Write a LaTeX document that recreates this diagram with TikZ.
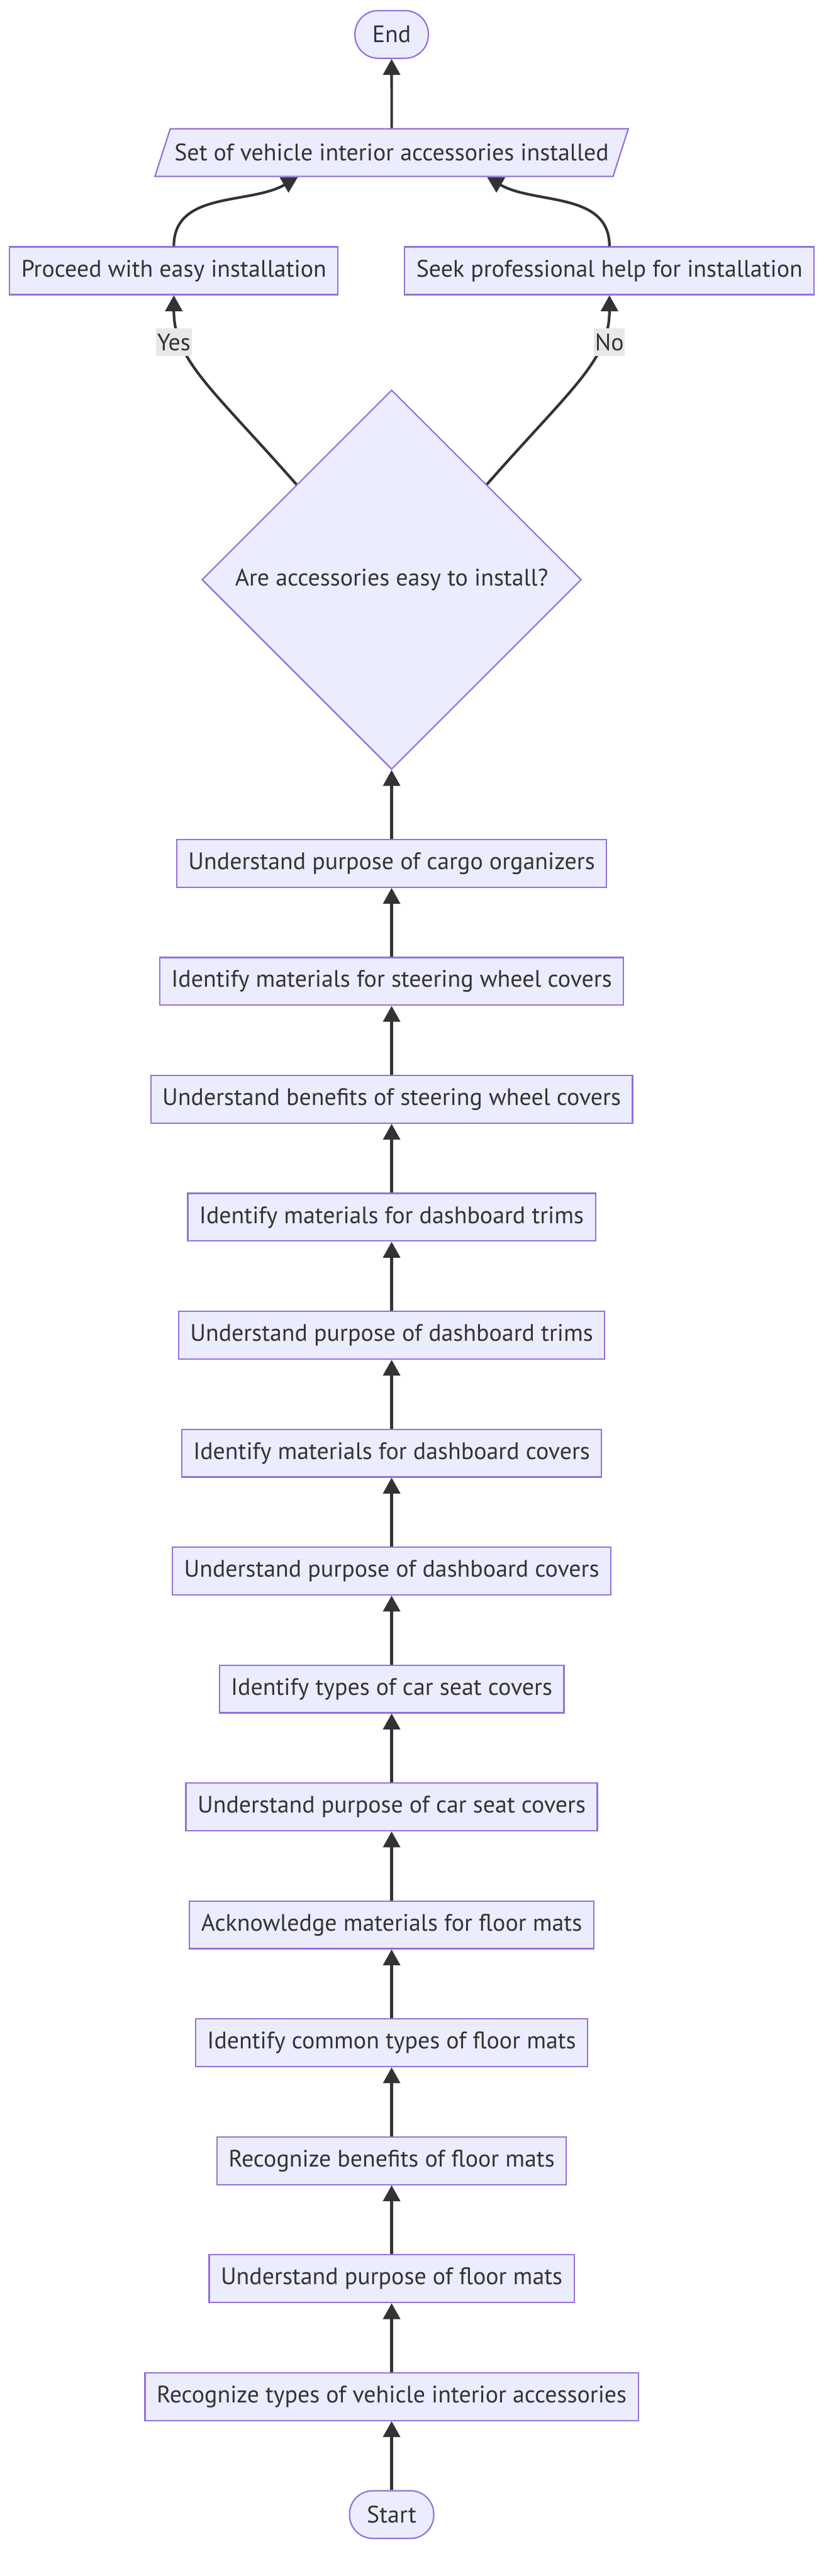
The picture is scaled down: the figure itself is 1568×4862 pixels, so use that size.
\documentclass[tikz,border=0pt]{standalone}
\usepackage{fontspec}
\setmainfont{PT Sans}
\usetikzlibrary{positioning,shapes.geometric,arrows.meta}
\definecolor{boxfill}{HTML}{ECECFF}
\definecolor{boxline}{HTML}{9370DB}
\definecolor{ink}{HTML}{333333}
\definecolor{lblfill}{HTML}{E8E8E8}
\newcommand{\pxUnit}[0]{0.25pt}
\newcommand{\flowFont}[0]{\fontsize{11.25pt}{13.5pt}\selectfont}

\begin{document}
\begin{tikzpicture}[x=\pxUnit, y=-\pxUnit, node distance=32.5pt, font=\flowFont, text=ink]
  \tikzset{stepbox/.style={draw=boxline, fill=boxfill, line width=0.65pt, minimum height=22.5pt, inner xsep=5.5pt},
    termbox/.style={stepbox, rounded corners=11pt, inner xsep=8.2pt},
    askbox/.style={stepbox, diamond, aspect=1, minimum width=179pt, minimum height=179pt, inner sep=0pt},
    outbox/.style={stepbox, trapezium, trapezium left angle=64, trapezium right angle=116,
      trapezium stretches body, inner xsep=2pt},
    flow/.style={draw=ink, line width=1.25pt, -{Triangle[width=8pt,length=7.5pt]}},
    edgelbl/.style={fill=lblfill, inner xsep=0.5pt, inner ysep=2.5pt}}
  \useasboundingbox (0,0) rectangle (1568,4862);
  \node[termbox] (start) at (739,4746) {Start};
  \node[stepbox, above=of start] (s1) {Recognize types of vehicle interior accessories};
  \node[stepbox, above=of s1] (s2) {Understand purpose of floor mats};
  \node[stepbox, above=of s2] (s3) {Recognize benefits of floor mats};
  \node[stepbox, above=of s3] (s4) {Identify common types of floor mats};
  \node[stepbox, above=of s4] (s5) {Acknowledge materials for floor mats};
  \node[stepbox, above=of s5] (s6) {Understand purpose of car seat covers};
  \node[stepbox, above=of s6] (s7) {Identify types of car seat covers};
  \node[stepbox, above=of s7] (s8) {Understand purpose of dashboard covers};
  \node[stepbox, above=of s8] (s9) {Identify materials for dashboard covers};
  \node[stepbox, above=of s9] (s10) {Understand purpose of dashboard trims};
  \node[stepbox, above=of s10] (s11) {Identify materials for dashboard trims};
  \node[stepbox, above=of s11] (s12) {Understand benefits of steering wheel covers};
  \node[stepbox, above=of s12] (s13) {Identify materials for steering wheel covers};
  \node[stepbox, above=of s13] (s14) {Understand purpose of cargo organizers};
  \node[askbox, above=of s14] (easyq) {Are accessories easy to install?};
  \node[stepbox] (easy) at (328,511) {Proceed with easy installation};
  \node[stepbox] (expert) at (1150,511) {Seek professional help for installation};
  \node[outbox] (done) at (739,288) {Set of vehicle interior accessories installed};
  \node[termbox] (end) at (739,65) {End};

  \foreach \a/\b in {start/s1, s1/s2, s2/s3, s3/s4, s4/s5, s5/s6, s6/s7, s7/s8,
    s8/s9, s9/s10, s10/s11, s11/s12, s12/s13, s13/s14, s14/easyq}
    \draw[flow] (\a) -- (\b);
  \draw[flow] (easyq.north west) .. controls (400,733) and (328,680) .. (easy.south);
  \draw[flow] (easyq.north east) .. controls (1078,733) and (1150,680) .. (expert.south);
  \node[edgelbl] (yes) at (328,646) {Yes};
  \node[edgelbl] (no) at (1150,646) {No};
  \draw[flow] (easy.north) to[out=90, in=-150] ([xshift=-44.25pt]done.south);
  \draw[flow] (expert.north) to[out=90, in=-30] ([xshift=45pt]done.south);
  \draw[flow] (done) -- (end);
\end{tikzpicture}
\end{document}
